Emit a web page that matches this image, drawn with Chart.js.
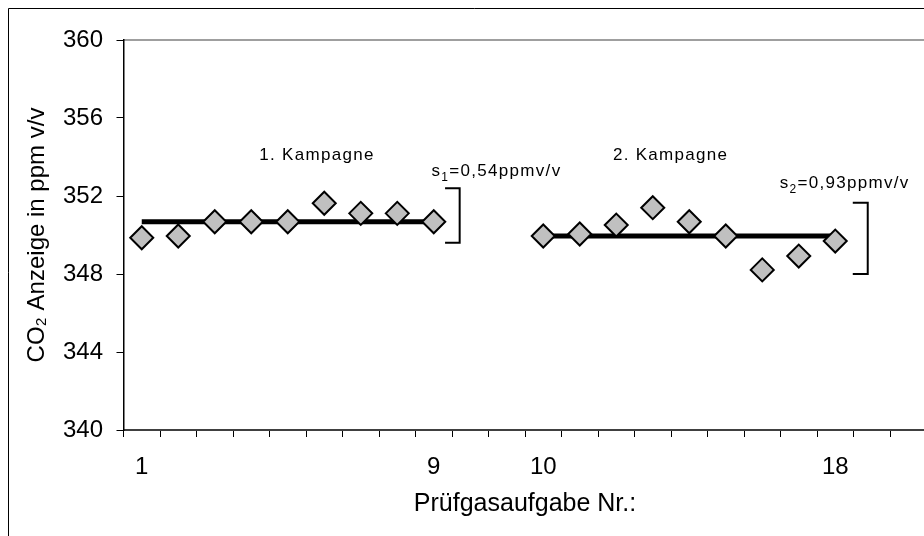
<!DOCTYPE html>
<html lang="de">
<head>
<meta charset="utf-8">
<title>CO2 Anzeige</title>
<script src="https://cdn.jsdelivr.net/npm/chart.js@4.4.0/dist/chart.umd.min.js"></script>
<style>
  html, body { margin: 0; padding: 0; background: #fff; overflow: hidden; }
  #chart { display: block; }
</style>
</head>
<body>
<canvas id="chart" width="940" height="536"></canvas>
<script>
(function () {
  "use strict";

  // X-Achse: Prüfgasaufgaben, mit Lücke zwischen den Kampagnen
  const tickLabels = ["1", "", "", "", "", "", "", "", "9", "", "", "10", "", "", "", "", "", "", "", "18", "", ""];
  const yTicks = [340, 344, 348, 352, 356, 360];

  // Einzelwerte je Kampagne (ppm v/v)
  const kampagne1 = [349.86, 349.95, 350.68, 350.68, 350.68, 351.63, 351.11, 351.11, 350.68];
  const kampagne2 = [349.95, 350.05, 350.51, 351.4, 350.68, 349.95, 348.21, 348.92, 349.69];
  const start1 = 0;
  const start2 = 11;

  // Mittelwerte
  const mittel1 = 350.68;
  const mittel2 = 349.95;

  // Beschriftung
  const kampagnenNamen = ["1. Kampagne", "2. Kampagne"];
  const streuung = ["0,54", "0,93"];
  const klammer1 = [349.6, 352.4];
  const klammer2 = [348.0, 351.65];

  const FONT = '"Liberation Sans", Arial, sans-serif';
  Chart.defaults.font.family = FONT;

  function pad(values, start) {
    const out = new Array(tickLabels.length).fill(null);
    values.forEach((v, i) => (out[start + i] = v));
    return out;
  }

  const punktStil = {
    showLine: false,
    pointStyle: "rectRot",
    pointRadius: 11.5,
    pointBackgroundColor: "#c0c0c0",
    pointBorderColor: "#000",
    pointBorderWidth: 2,
    order: 1,
  };
  const linienStil = {
    borderColor: "#000",
    borderWidth: 5,
    pointRadius: 0,
    spanGaps: false,
    order: 2,
  };

  const rahmenPlugin = {
    id: "rahmen",
    beforeDraw(chart) {
      const ctx = chart.ctx;
      const a = chart.chartArea;
      ctx.save();
      ctx.fillStyle = "#fff";
      ctx.fillRect(0, 0, chart.width, chart.height);
      ctx.strokeStyle = "#000";
      ctx.lineWidth = 1;
      ctx.beginPath();
      ctx.moveTo(8.5, chart.height + 5);
      ctx.lineTo(8.5, 8.5);
      ctx.lineTo(chart.width + 5, 8.5);
      ctx.stroke();
      ctx.strokeStyle = "#808080";
      ctx.lineWidth = 1.5;
      ctx.beginPath();
      ctx.moveTo(a.left, a.top);
      ctx.lineTo(a.right, a.top);
      ctx.lineTo(a.right, a.bottom);
      ctx.stroke();
      ctx.restore();
    },
  };

  function sText(ctx, x, yBase, idx, wert) {
    ctx.textAlign = "left";
    ctx.textBaseline = "alphabetic";
    ctx.font = "17px " + FONT;
    ctx.fillText("s", x, yBase);
    x += ctx.measureText("s").width;
    ctx.font = "12px " + FONT;
    ctx.fillText(String(idx), x, yBase + 5);
    x += ctx.measureText(String(idx)).width;
    ctx.font = "17px " + FONT;
    ctx.fillText("=" + wert + "ppmv/v", x, yBase);
  }

  const beschriftungPlugin = {
    id: "beschriftung",
    afterDatasetsDraw(chart) {
      const ctx = chart.ctx;
      const xs = chart.scales.x;
      const ys = chart.scales.y;
      ctx.save();
      ctx.strokeStyle = "#000";
      ctx.lineWidth = 2;
      [
        [8.31, 8.71, klammer1],
        [19.48, 19.89, klammer2],
      ].forEach(([x0, x1, r]) => {
        const p0 = xs.getPixelForValue(x0);
        const p1 = xs.getPixelForValue(x1);
        const top = ys.getPixelForValue(r[1]);
        const bot = ys.getPixelForValue(r[0]);
        ctx.beginPath();
        ctx.moveTo(p0, top);
        ctx.lineTo(p1, top);
        ctx.lineTo(p1, bot);
        ctx.lineTo(p0, bot);
        ctx.stroke();
      });

      ctx.fillStyle = "#000";
      ctx.letterSpacing = "1.3px";
      ctx.font = "17px " + FONT;
      ctx.textAlign = "center";
      ctx.textBaseline = "middle";
      ctx.fillText(kampagnenNamen[0], xs.getPixelForValue(4.8), ys.getPixelForValue(354.1));
      ctx.fillText(kampagnenNamen[1], xs.getPixelForValue(14.49), ys.getPixelForValue(354.1));

      sText(ctx, xs.getPixelForValue(7.94), ys.getPixelForValue(353.03), 1, streuung[0]);
      sText(ctx, xs.getPixelForValue(17.48), ys.getPixelForValue(352.41), 2, streuung[1]);
      ctx.restore();
    },
  };

  new Chart(document.getElementById("chart"), {
    type: "line",
    data: {
      labels: tickLabels,
      datasets: [
        { label: "Kampagne 1", data: pad(kampagne1, start1), ...punktStil },
        { label: "Kampagne 2", data: pad(kampagne2, start2), ...punktStil },
        { label: "Mittel 1", data: pad(kampagne1.map(() => mittel1), start1), ...linienStil },
        { label: "Mittel 2", data: pad(kampagne2.map(() => mittel2), start2), ...linienStil },
      ],
    },
    options: {
      responsive: false,
      animation: false,
      events: [],
      layout: { padding: { top: 40, right: 11, left: 0, bottom: 0 } },
      plugins: { legend: { display: false }, tooltip: { enabled: false } },
      scales: {
        x: {
          type: "category",
          offset: true,
          grid: { offset: true, drawOnChartArea: false, tickLength: 7, color: "#000", lineWidth: 1 },
          border: { color: "#404040", width: 2 },
          ticks: { autoSkip: false, maxRotation: 0, color: "#000", font: { size: 24 }, padding: 15.6 },
          title: {
            display: true,
            text: "Prüfgasaufgabe Nr.:",
            color: "#000",
            font: { size: 25 },
            padding: { top: 0, bottom: 17 },
          },
          afterFit(s) {
            s.height = 106;
          },
        },
        y: {
          min: 340,
          max: 360,
          afterBuildTicks(s) {
            s.ticks = yTicks.map((v) => ({ value: v }));
          },
          grid: { drawOnChartArea: false, tickLength: 7, color: "#000", lineWidth: 1 },
          border: { color: "#000", width: 1.5 },
          ticks: { color: "#000", font: { size: 24 }, padding: 13.5 },
          title: {
            display: true,
            text: "CO₂ Anzeige in ppm v/v",
            color: "#000",
            font: { size: 24 },
            padding: { top: 23, bottom: 0 },
          },
          afterFit(s) {
            s.width = 123.5;
          },
        },
      },
    },
    plugins: [rahmenPlugin, beschriftungPlugin],
  });
})();
</script>
</body>
</html>
